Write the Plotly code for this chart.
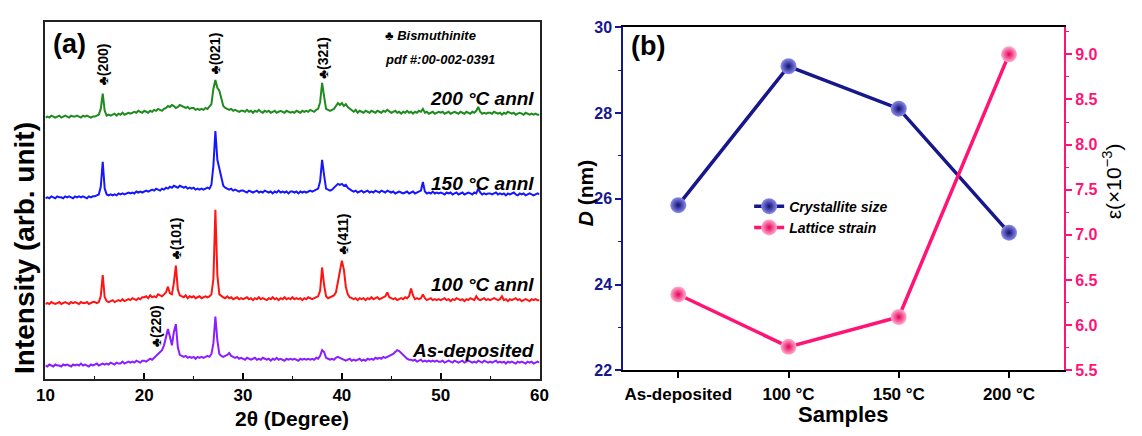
import plotly.graph_objects as go

# ---------------- (a) XRD patterns ----------------
# 2θ sampled every 0.2° from 10° to 60°
two_theta = [round(10 + 0.2 * i, 1) for i in range(251)]

xrd_as_deposited = [
    1, 0, 2, 1, 0, 2, 1, 1, 0, 2, 1, 2, 1, 0, 2, 1, 2, 1, 3, 1, 2, 1, 0, 2, 1,
    2, 3, 1, 2, 3, 2, 3, 2, 4, 3, 2, 4, 3, 3, 5, 3, 4, 5, 4, 5, 4, 6, 5, 4, 6,
    6, 5, 7, 8, 7, 9, 11, 12, 14, 17, 22, 30, 39, 31, 22, 36, 44, 20, 12, 11, 10, 11, 9, 10, 9,
    10, 8, 10, 9, 10, 9, 10, 11, 10, 13, 24, 52, 27, 13, 11, 10, 11, 12, 14, 11, 10, 9, 10, 8, 9,
    8, 7, 9, 8, 7, 8, 9, 7, 8, 7, 9, 8, 7, 8, 6, 8, 7, 9, 7, 8, 7, 6, 8, 7, 8,
    7, 8, 7, 6, 8, 7, 8, 7, 8, 7, 8, 7, 9, 8, 11, 17, 15, 9, 8, 7, 8, 7, 9, 10, 9,
    8, 7, 6, 7, 8, 6, 7, 6, 7, 8, 6, 7, 6, 8, 7, 8, 7, 9, 8, 9, 8, 10, 9, 10, 11,
    12, 13, 15, 17, 16, 14, 11, 9, 8, 7, 7, 6, 7, 5, 6, 7, 5, 6, 5, 6, 5, 6, 5, 6, 5,
    5, 6, 4, 5, 6, 5, 4, 6, 5, 4, 5, 6, 4, 5, 6, 5, 4, 5, 4, 6, 5, 4, 6, 5, 4,
    5, 4, 5, 6, 4, 5, 4, 5, 3, 5, 4, 5, 4, 3, 5, 4, 5, 4, 3, 5, 4, 5, 3, 4, 5,
    4,
]
xrd_100C = [
    0, 1, 0, 2, 1, 0, 1, 2, 0, 1, 2, 1, 0, 2, 1, 2, 1, 0, 2, 1, 1, 2, 0, 1, 2,
    2, 1, 2, 8, 30, 7, 3, 2, 3, 4, 2, 3, 4, 3, 5, 3, 4, 5, 4, 6, 5, 4, 6, 5, 7,
    7, 8, 6, 9, 7, 8, 7, 10, 9, 8, 10, 12, 18, 11, 10, 22, 40, 15, 9, 8, 7, 9, 6, 8, 7,
    8, 6, 7, 8, 6, 7, 8, 7, 8, 10, 26, 98, 30, 10, 8, 7, 6, 8, 6, 7, 5, 6, 7, 5, 6,
    5, 6, 7, 5, 6, 4, 6, 5, 7, 5, 6, 5, 4, 6, 5, 7, 5, 6, 4, 6, 5, 7, 5, 6, 5,
    7, 5, 6, 5, 6, 4, 6, 5, 7, 6, 5, 6, 7, 8, 14, 38, 20, 8, 6, 7, 8, 9, 12, 22, 34,
    45, 36, 18, 10, 7, 6, 5, 6, 4, 6, 5, 6, 4, 6, 5, 7, 5, 6, 7, 5, 6, 7, 8, 12, 7,
    6, 5, 6, 4, 5, 6, 5, 7, 6, 8, 16, 9, 5, 6, 5, 6, 10, 6, 4, 5, 6, 4, 5, 4, 5,
    4, 5, 6, 4, 5, 3, 5, 4, 6, 5, 4, 5, 3, 5, 4, 6, 5, 4, 8, 5, 4, 5, 6, 4, 5,
    4, 5, 6, 5, 4, 5, 8, 4, 5, 3, 5, 4, 5, 6, 4, 5, 3, 4, 5, 4, 3, 5, 4, 5, 4,
    4,
]
xrd_150C = [
    0, 1, 0, 2, 1, 0, 2, 1, 1, 0, 2, 1, 2, 1, 0, 2, 1, 2, 1, 2, 1, 0, 2, 1, 2,
    2, 3, 4, 12, 38, 10, 4, 3, 4, 3, 4, 3, 5, 4, 5, 4, 5, 6, 5, 6, 5, 7, 6, 7, 6,
    7, 8, 7, 8, 9, 8, 10, 9, 8, 10, 9, 11, 10, 12, 11, 13, 12, 11, 13, 12, 11, 12, 10, 11, 10,
    11, 9, 10, 9, 10, 9, 10, 11, 10, 14, 34, 70, 40, 30, 20, 13, 11, 10, 9, 10, 8, 9, 8, 7, 8,
    8, 7, 6, 8, 7, 6, 7, 8, 6, 7, 6, 8, 7, 6, 7, 5, 7, 6, 8, 6, 7, 6, 7, 5, 7,
    7, 6, 7, 5, 7, 6, 7, 6, 7, 8, 7, 8, 9, 10, 18, 40, 24, 10, 9, 8, 9, 11, 13, 15, 14,
    15, 13, 14, 11, 9, 8, 7, 8, 6, 7, 8, 6, 7, 8, 6, 7, 6, 8, 7, 6, 8, 7, 6, 8, 7,
    6, 7, 5, 6, 7, 6, 5, 6, 7, 5, 6, 7, 5, 6, 7, 8, 17, 7, 5, 6, 5, 7, 5, 6, 5,
    6, 5, 4, 6, 5, 6, 4, 5, 6, 4, 5, 6, 4, 5, 6, 5, 4, 6, 5, 10, 6, 4, 5, 4, 5,
    5, 4, 5, 6, 4, 5, 4, 5, 3, 5, 4, 5, 6, 4, 3, 5, 4, 5, 3, 4, 5, 4, 3, 4, 5,
    4,
]
xrd_200C = [
    0, 1, 0, 2, 1, 0, 1, 2, 0, 1, 2, 1, 0, 2, 1, 1, 2, 1, 0, 2, 1, 2, 1, 0, 1,
    1, 2, 3, 9, 25, 7, 2, 3, 2, 3, 4, 2, 4, 3, 5, 3, 4, 5, 4, 5, 6, 5, 7, 6, 5,
    7, 6, 5, 7, 6, 8, 7, 9, 8, 7, 9, 10, 12, 11, 13, 12, 10, 11, 13, 12, 11, 10, 11, 9, 10,
    10, 8, 9, 8, 9, 8, 10, 9, 11, 14, 30, 39, 31, 28, 20, 12, 10, 9, 8, 9, 7, 8, 7, 6, 7,
    7, 6, 8, 6, 7, 5, 7, 6, 8, 6, 5, 7, 6, 7, 5, 6, 7, 5, 6, 7, 6, 5, 7, 6, 5,
    6, 5, 7, 6, 5, 7, 6, 7, 6, 8, 7, 6, 8, 9, 16, 36, 22, 9, 8, 7, 8, 9, 12, 15, 13,
    15, 12, 14, 11, 9, 7, 6, 8, 5, 7, 6, 5, 7, 6, 5, 7, 6, 5, 7, 6, 5, 7, 6, 8, 6,
    5, 6, 7, 5, 6, 4, 6, 5, 7, 5, 6, 4, 6, 5, 7, 6, 9, 5, 6, 4, 5, 6, 4, 5, 6,
    5, 6, 4, 5, 6, 4, 5, 6, 5, 4, 6, 5, 4, 6, 5, 4, 6, 5, 7, 11, 6, 4, 5, 4, 5,
    5, 4, 6, 5, 4, 5, 3, 5, 4, 6, 5, 4, 5, 3, 4, 5, 4, 3, 5, 4, 3, 4, 3, 4, 3,
    3,
]

pattern_names = ["As-deposited", "100 °C annl", "150 °C annl", "200 °C annl"]
pattern_values = [xrd_as_deposited, xrd_100C, xrd_150C, xrd_200C]
pattern_colors = ["#8B1EFF", "#FF1414", "#1717FF", "#1E8B1E"]
stack_offsets = [13, 78, 188, 272]
for vals in pattern_values:
    assert len(vals) == len(two_theta)

# reflection labels: (text, 2θ, label centre height on the stacked scale)
reflections = [
    ("♣(200)", 15.8, 327),
    ("♣(021)", 27.2, 339),
    ("♣(321)", 38.1, 334),
    ("♣(101)", 23.2, 146),
    ("♣(411)", 40.1, 151),
    ("♣(220)", 21.2, 55),
]
# sample label heights on the stacked scale
sample_label_y = [30, 98, 203, 292]

# ---------------- (b) crystallite size & strain ----------------
samples = ["As-deposited", "100 °C", "150 °C", "200 °C"]
crystallite_size = [25.85, 29.09, 28.10, 25.21]
lattice_strain = [6.34, 5.76, 6.09, 9.0]

NAVY = "#17178C"
PINK = "#FF1475"
FONT = "Liberation Sans, Arial, sans-serif"
W, H = 1142, 436


def px(x):
    return x / W


def py(y):
    return 1 - y / H


fig = go.Figure()

for name, vals, color, off in zip(pattern_names, pattern_values, pattern_colors, stack_offsets):
    fig.add_trace(go.Scatter(
        x=two_theta, y=[v + off for v in vals], mode="lines",
        line=dict(color=color, width=2), xaxis="x", yaxis="y",
        showlegend=False, hoverinfo="skip", name=name,
    ))

fig.add_trace(go.Scatter(
    x=samples, y=crystallite_size, mode="lines+markers", name="Crystallite size",
    xaxis="x2", yaxis="y2",
    line=dict(color=NAVY, width=3.5),
    marker=dict(size=16, color="#8C8CF0", gradient=dict(type="radial", color="#101070"),
                line=dict(width=0)),
))
fig.add_trace(go.Scatter(
    x=samples, y=lattice_strain, mode="lines+markers", name="Lattice strain",
    xaxis="x2", yaxis="y3",
    line=dict(color=PINK, width=3.5),
    marker=dict(size=16, color="#FFB0D0", gradient=dict(type="radial", color="#E8005A"),
                line=dict(width=0)),
))

annotations = []
# (a) labels
annotations.append(dict(text="<b>(a)</b>", x=px(43), y=py(37), xref="paper", yref="paper",
                        xanchor="left", yanchor="middle", showarrow=False,
                        font=dict(size=27, color="black", family=FONT)))
annotations.append(dict(text="<b><i>♣ Bismuthinite</i></b>", x=px(380), y=py(29), xref="paper",
                        yref="paper", xanchor="left", yanchor="middle", showarrow=False,
                        font=dict(size=13, color="black", family=FONT)))
annotations.append(dict(text="<b><i>pdf #:00-002-0391</i></b>", x=px(380), y=py(54), xref="paper",
                        yref="paper", xanchor="left", yanchor="middle", showarrow=False,
                        font=dict(size=13, color="black", family=FONT)))
for text, tt, yc in reflections:
    annotations.append(dict(text=f"<b>{text}</b>", x=tt, y=yc, xref="x", yref="y",
                            textangle=-90, xanchor="center", yanchor="middle", showarrow=False,
                            font=dict(size=14, color="black", family=FONT)))
for name, yl in zip(pattern_names, sample_label_y):
    annotations.append(dict(text=f"<b><i>{name}</i></b>", x=59.6, y=yl, xref="x", yref="y",
                            xanchor="right", yanchor="middle", showarrow=False,
                            font=dict(size=19, color="black", family=FONT)))
annotations.append(dict(text="<b>Intensity (arb. unit)</b>", x=px(16), y=py(250), xref="paper",
                        yref="paper", textangle=-90, xanchor="center", yanchor="middle",
                        showarrow=False, font=dict(size=28, color="black", family=FONT)))
annotations.append(dict(text="<b>2θ (Degree)</b>", x=px(288), y=py(427),
                        xref="paper", yref="paper", xanchor="center", yanchor="middle",
                        showarrow=False, font=dict(size=21, color="black", family=FONT)))
# (b) labels
annotations.append(dict(text="<b>(b)</b>", x=px(630), y=py(40), xref="paper", yref="paper",
                        xanchor="left", yanchor="middle", showarrow=False,
                        font=dict(size=27, color="black", family=FONT)))
annotations.append(dict(text="<b>Samples</b>", x=px(848), y=py(423),
                        xref="paper", yref="paper",
                        xanchor="center", yanchor="middle", showarrow=False,
                        font=dict(size=22, color="black", family=FONT)))
annotations.append(dict(text="<b><i>D</i> (nm)</b>", x=px(586), y=py(192), xref="paper",
                        yref="paper", textangle=-90, xanchor="center", yanchor="middle",
                        showarrow=False, font=dict(size=21, color="black", family=FONT)))
annotations.append(dict(text="ε(×10<sup>−3</sup>)", x=px(1121), y=py(180), xref="paper",
                        yref="paper", textangle=-90, xanchor="center", yanchor="middle",
                        showarrow=False, font=dict(size=21, color="black", family=FONT)))

tick_font = dict(size=17, color="black", family=FONT, weight="bold")

fig.update_layout(
    width=W, height=H,
    margin=dict(l=0, r=0, t=0, b=0),
    paper_bgcolor="white", plot_bgcolor="white",
    font=dict(family=FONT, color="black"),
    annotations=annotations,
    xaxis=dict(domain=[px(37), px(539)], range=[10, 60], dtick=10, tick0=10,
               ticks="inside", ticklen=6, tickwidth=1.5, tickcolor="black",
               minor=dict(dtick=5, ticks="inside", ticklen=3, tickcolor="black", tickwidth=1.2),
               showline=True, linecolor="#222", linewidth=2, mirror=True,
               showgrid=False, zeroline=False, tickfont=tick_font, anchor="y"),
    yaxis=dict(domain=[py(386), py(15)], range=[0, 371], showticklabels=False,
               ticks="", showline=True, linecolor="#222", linewidth=2, mirror=True,
               showgrid=False, zeroline=False, anchor="x"),
    xaxis2=dict(domain=[px(624), px(1072)], range=[-0.5, 3.5], type="category",
                ticks="outside", ticklen=6, tickwidth=1.5, tickcolor="black",
                showline=True, linecolor="black", linewidth=2, mirror=True,
                showgrid=False, zeroline=False, anchor="y2", ticklabelstandoff=1,
                tickfont=dict(size=17, color="black", family=FONT, weight="bold")),
    yaxis2=dict(domain=[py(377), py(20)], range=[22, 30], dtick=2,
                ticks="outside", ticklen=6, tickwidth=1.5, tickcolor=NAVY,
                minor=dict(dtick=1, ticks="outside", ticklen=3, tickcolor=NAVY, tickwidth=1.2),
                showline=True, linecolor=NAVY, linewidth=1.8, showgrid=False, zeroline=False,
                anchor="x2",
                tickfont=dict(size=16, color=NAVY, family=FONT, weight="bold")),
    yaxis3=dict(range=[5.5, 9.3], dtick=0.5, tick0=5.5, tickformat=".1f", overlaying="y2",
                side="right", anchor="x2",
                ticks="outside", ticklen=6, tickwidth=1.5, tickcolor=PINK,
                minor=dict(dtick=0.25, ticks="outside", ticklen=3, tickcolor=PINK, tickwidth=1.2),
                showline=True, linecolor=PINK, linewidth=1.8, showgrid=False, zeroline=False,
                tickfont=dict(size=16, color=PINK, family=FONT, weight="bold")),
    legend=dict(x=px(752), y=py(190), xanchor="left", yanchor="top",
                bgcolor="rgba(0,0,0,0)", borderwidth=0, tracegroupgap=0,
                itemwidth=30,
                font=dict(size=14, color="black", family=FONT, style="italic", weight="bold")),
)

fig.write_html("out.html")
